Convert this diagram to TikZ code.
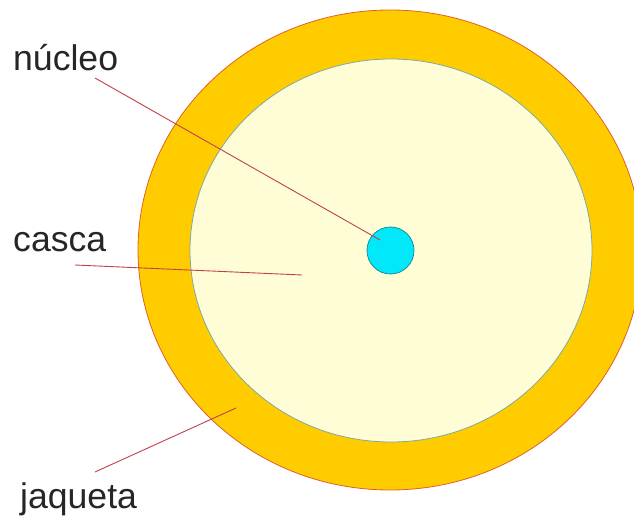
\documentclass[tikz,border=0pt]{standalone}
\usepackage{fontspec}
\setmainfont{Liberation Sans}
\usetikzlibrary{shapes.geometric}
\definecolor{jacketfill}{HTML}{FFCC00}
\definecolor{jacketline}{HTML}{E0602A}
\definecolor{shellfill}{HTML}{FFFDD6}
\definecolor{shellline}{HTML}{7FA8A0}
\definecolor{corefill}{HTML}{00E8FA}
\definecolor{coreline}{HTML}{1C8C9C}
\definecolor{leadred}{HTML}{C2404E}
\tikzstyle{layer} = [ellipse, inner sep=0pt, outer sep=0pt, line width=0.8pt]
\tikzstyle{tag} = [anchor=base west, inner sep=0pt, text=black!85, font=\fontsize{35.6}{40}\selectfont]
\tikzstyle{leader} = [line width=0.9pt, draw=leadred]

\begin{document}
\begin{tikzpicture}[x=1pt, y=-1pt]
      \useasboundingbox (0,0) rectangle (634,518);
      \clip (0,0) rectangle (634,518);
      \fill[white] (0,0) rectangle (634,518);
      % fibre layers
      \node (jacket)[layer, draw=jacketline, fill=jacketfill, minimum width=504pt, minimum height=480pt] at (390,250) {};
      \node (shell)[layer, draw=shellline, fill=shellfill, minimum width=402pt, minimum height=383pt] at (391,250.5) {};
      \node (core)[layer, draw=coreline, fill=corefill, minimum width=47pt, minimum height=47pt] at (390.5,250.5) {};
      % labels
      \node (nucleo)[tag] at (13,71) {núcleo};
      \node (casca)[tag] at (13,252) {casca};
      \node (jaqueta)[tag] at (20,508) {jaqueta};
      % leader lines
      \coordinate (nucleo-a) at (95,78);
      \coordinate (nucleo-b) at (380,240);
      \coordinate (casca-a) at (75,265);
      \coordinate (casca-b) at (302,275);
      \coordinate (jaqueta-a) at (95,472);
      \coordinate (jaqueta-b) at (236,408);
      \draw[leader] (nucleo-a) -- (nucleo-b);
      \draw[leader] (casca-a) -- (casca-b);
      \draw[leader] (jaqueta-a) -- (jaqueta-b);
    \end{tikzpicture}
\end{document}
